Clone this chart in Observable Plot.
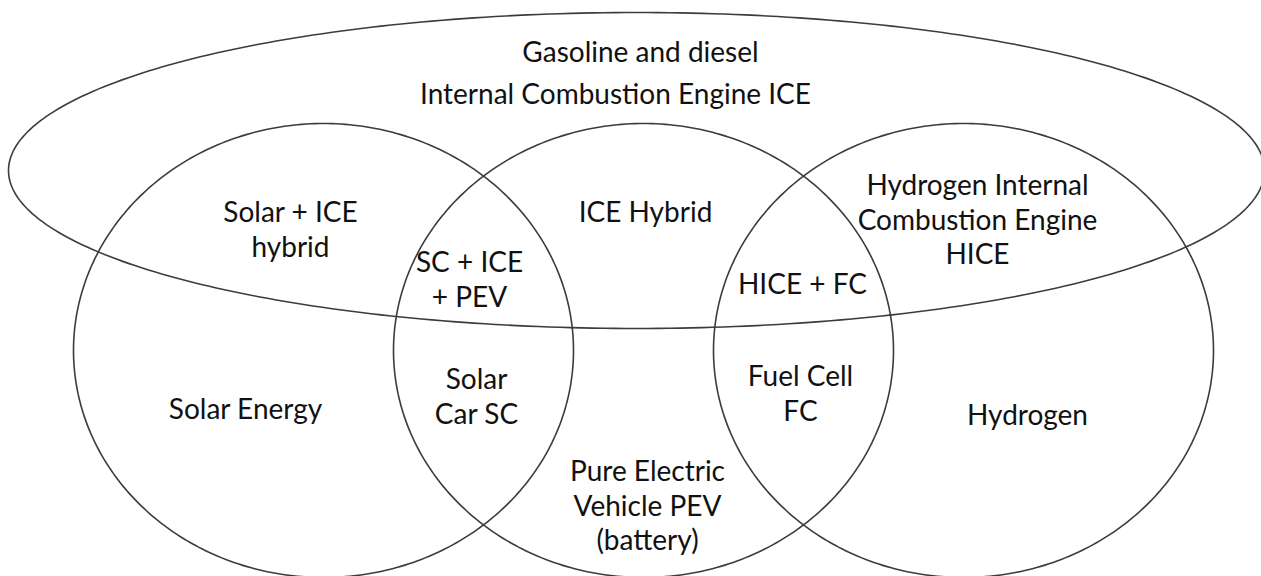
<!DOCTYPE html>
<html><head><meta charset="utf-8">
<script src="https://cdn.jsdelivr.net/npm/d3@7"></script>
<script src="https://cdn.jsdelivr.net/npm/@observablehq/plot@0.6"></script>
<style>html,body{margin:0;padding:0;background:#fff;overflow:hidden}</style>
</head><body><div id="chart"></div>
<script>
// Sets (ellipses) of the diagram
const setNames = ["Gasoline and diesel ICE", "Solar Energy", "Pure Electric Vehicle", "Hydrogen"];
const setCx = [636, 323, 643, 963];
const setCy = [170, 350, 350, 350];
const setRx = [628, 250, 250, 250];
const setRy = [158, 227, 227, 227];

// Region labels
const regionLabels = [
  "Gasoline and diesel",
  "Internal Combustion Engine ICE",
  "Solar + ICE\nhybrid",
  "ICE Hybrid",
  "Hydrogen Internal\nCombustion Engine\nHICE",
  "SC + ICE\n+ PEV",
  "HICE + FC",
  "Solar\nCar SC",
  "Solar Energy",
  "Fuel Cell\nFC",
  "Hydrogen",
  "Pure Electric\nVehicle PEV\n(battery)"
];
const labelX = [640, 615, 290, 645, 977, 469, 802, 476, 245, 800, 1027, 647];
const labelY = [50, 92, 228, 210, 218, 278, 282, 395, 407, 392, 413, 504];

// Build outline table for each ellipse
const outline = [];
setNames.forEach((name, i) => {
  for (let k = 0; k < 360; k++) {
    const t = (k / 360) * 2 * Math.PI;
    outline.push({set: name, x: setCx[i] + setRx[i] * Math.cos(t), y: setCy[i] + setRy[i] * Math.sin(t)});
  }
});
const labels = regionLabels.map((text, i) => ({text, x: labelX[i], y: labelY[i]}));

const chart = Plot.plot({
  width: 1261,
  height: 576,
  margin: 0,
  x: {domain: [0, 1261], range: [0, 1261], axis: null},
  y: {domain: [0, 576], range: [0, 576], axis: null},
  style: {background: "#fff", overflow: "hidden"},
  marks: [
    Plot.line(outline, {x: "x", y: "y", z: "set", curve: "linear-closed", stroke: "#3c3c3c", strokeWidth: 1.6, fill: "none"}),
    Plot.text(labels, {x: "x", y: "y", text: "text", fontSize: 28, fontFamily: "Lato, 'Open Sans', sans-serif", fill: "#111", lineHeight: 1.24})
  ]
});
document.getElementById("chart").append(chart);
</script>
</body></html>
